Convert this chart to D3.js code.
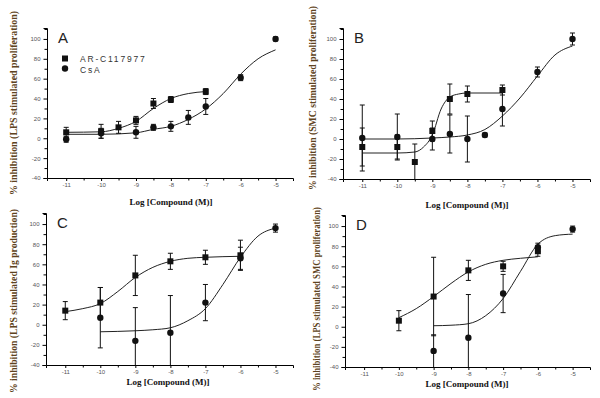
<!DOCTYPE html>
<html><head><meta charset="utf-8">
<script src="https://cdn.jsdelivr.net/npm/d3@7"></script>
<style>body{margin:0;background:#fff}svg{display:block}</style>
</head><body><svg id="c" width="600" height="398"></svg>
<script>
// ---- data ----
const xTicks = [-11, -10, -9, -8, -7, -6, -5];
const yTicks = [-40, -20, 0, 20, 40, 60, 80, 100];
const seriesNames = ["AR-C117977", "CsA"];
const xLabel = "Log [Compound (M)]";
const panelLetters = ["A", "B", "C", "D"];
const yLabels = [
  "% inhibition (LPS stimulated proliferation)",
  "% inhibition (SMC stimulated proliferation)",
  "% inhibition (LPS stimulated Ig production)",
  "% inhibition (LPS stimulated SMC proliferation)"
];
// [log conc, mean, error]
const aSquares = [[-11,6,5],[-10,7,7],[-9.5,11,6],[-9,18,4],[-8.5,35,5],[-8,39,3],[-7,47,3]];
const aCircles = [[-11,-1,3],[-10,5,5],[-9,6,6],[-8.5,11,3],[-8,12,5],[-7.5,21,7],[-7,32,8],[-6,61,3],[-5,100,2]];
const bSquares = [[-11,-8,19],[-10,-8,12],[-9.5,-23,18],[-9,8,10],[-8.5,40,15],[-8,45,8],[-7,49,5]];
const bCircles = [[-11,1,33],[-10,2,23],[-9,0,11],[-8.5,5,19],[-8,0,23],[-7.5,4,2],[-7,30,17],[-6,67,5],[-5,100,6]];
const cSquares = [[-11,14,9],[-10,22,15],[-9,49,20],[-8,63,8],[-7,67,7],[-6,69,15]];
const cCircles = [[-10,7,30],[-9,-16,33],[-8,-8,37],[-7,22,18],[-6,66,11],[-5,96,4]];
const dSquares = [[-10,6,10],[-9,30,39],[-8,56,10],[-7,60,5],[-6,75,5]];
const dCircles = [[-9,-24,16],[-8,-11,43],[-7,33,19],[-6,79,4],[-5,97,3]];
// fitted curves: [log conc, value]
const aSquareFit = [[-11,6],[-10,6.5],[-9.5,10],[-9,17],[-8.5,30],[-8,40],[-7.5,45],[-7,47]];
const aCircleFit = [[-11,4],[-10,4],[-9,5.5],[-8.5,9],[-8,12],[-7.5,19],[-7,29.5],[-6.5,45],[-6,64.5],[-5.5,80],[-5,89]];
const bSquareFit = [[-11,-14],[-10,-14],[-9.5,-13],[-9.25,-8],[-9,4],[-8.75,30],[-8.5,42],[-8.25,45],[-8,46],[-7,46]];
const bCircleFit = [[-11,0],[-10,0],[-9,1],[-8.5,2],[-8,4],[-7.5,9.5],[-7,23],[-6.5,41],[-6,63],[-5.5,84],[-5,93]];
const cSquareFit = [[-11,13],[-10.5,16],[-10,21],[-9.5,33],[-9,47],[-8.5,57],[-8,63],[-7.5,66],[-7,67],[-6,68]];
const cCircleFit = [[-10,-7],[-9,-6],[-8.5,-5],[-8,-3],[-7.5,4],[-7,16],[-6.5,40],[-6,67],[-5.5,88],[-5,96]];
const dSquareFit = [[-10,9],[-9.5,18],[-9,30],[-8.5,43],[-8,54.5],[-7.5,62],[-7,66],[-6.5,68],[-6,69.5]];
const dCircleFit = [[-9,1],[-8.5,1.5],[-8,3],[-7.5,11],[-7,28],[-6.5,55],[-6,82],[-5.5,90.5],[-5,92]];

const panelData = [
  {sq: aSquares, ci: aCircles, sqFit: aSquareFit, ciFit: aCircleFit},
  {sq: bSquares, ci: bCircles, sqFit: bSquareFit, ciFit: bCircleFit},
  {sq: cSquares, ci: cCircles, sqFit: cSquareFit, ciFit: cCircleFit},
  {sq: dSquares, ci: dCircles, sqFit: dSquareFit, ciFit: dCircleFit}
];

// ---- layout ----
const layout = [
  {l: 47,  r: 293, t: 28,  b: 178, lx: 15,  ly: 103, xl: 171, xly: 205},
  {l: 343, r: 590, t: 28,  b: 179, lx: 314, ly: 98,  xl: 467, xly: 208},
  {l: 46,  r: 293, t: 213, b: 365, lx: 15,  ly: 301, xl: 168, xly: 385},
  {l: 345, r: 590, t: 215, b: 367, lx: 318, ly: 299, xl: 467, xly: 387}
];

const svg = d3.select("#c");
const xDomain = [-11.55, -4.5];
const yDomain = [-40, 111];

layout.forEach((L, i) => {
  const D = panelData[i];
  const x = d3.scaleLinear().domain(xDomain).range([L.l, L.r]);
  const y = d3.scaleLinear().domain(yDomain).range([L.b, L.t]);
  const g = svg.append("g");

  const cid = "clip" + i;
  svg.append("clipPath").attr("id", cid).append("rect")
    .attr("x", L.l).attr("y", L.t - 5).attr("width", L.r - L.l + 5).attr("height", L.b - L.t + 5);

  const yMinor = d3.range(-30, 111, 20);
  const xMinor = d3.range(-10.5, -5, 1);
  const yAxis = d3.axisLeft(y).tickValues(yTicks).tickSize(3.5).tickPadding(3).tickFormat(d3.format("d"));
  const xAxis = d3.axisBottom(x).tickValues(xTicks).tickSize(3).tickPadding(1.5).tickFormat(d3.format("d"));
  const ya = g.append("g").attr("transform", `translate(${L.l},0)`).call(yAxis);
  const xa = g.append("g").attr("transform", `translate(0,${L.b})`).call(xAxis);
  g.append("g").attr("transform", `translate(${L.l},0)`)
    .call(d3.axisLeft(y).tickValues(yMinor).tickSize(2.5).tickFormat(""))
    .select(".domain").remove();
  g.append("g").attr("transform", `translate(0,${L.b})`)
    .call(d3.axisBottom(x).tickValues(xMinor).tickSize(2.5).tickFormat(""))
    .select(".domain").remove();
  g.selectAll(".domain").attr("stroke", "#000").attr("stroke-width", 1);
  g.selectAll(".tick line").attr("stroke", "#000");
  [ya, xa].forEach(a => a.selectAll(".tick text")
    .attr("font-family", "Liberation Sans, Arial, sans-serif")
    .attr("font-size", 6).attr("fill", "#555")
    .text(d => d < 0 ? "-" + Math.abs(d) : d));

  // y label
  g.append("text")
    .attr("transform", `translate(${L.lx},${L.ly}) rotate(-90)`)
    .attr("text-anchor", "middle").attr("dominant-baseline", "middle")
    .attr("font-family", "Liberation Serif, Times New Roman, serif")
    .attr("font-weight", "bold").attr("font-size", 10).attr("fill", "#5e4320")
    .attr("textLength", 184).attr("lengthAdjust", "spacingAndGlyphs")
    .text(yLabels[i]);
  // x label
  g.append("text").attr("x", L.xl).attr("y", L.xly)
    .attr("text-anchor", "middle")
    .attr("font-family", "Liberation Serif, Times New Roman, serif")
    .attr("font-weight", "bold").attr("font-size", 9).attr("fill", "#111")
    .text(xLabel);
  // panel letter
  g.append("text").attr("x", L.l + 11).attr("y", L.t + 15)
    .attr("font-family", "Liberation Sans, Arial, sans-serif")
    .attr("font-size", 15).attr("fill", "#222")
    .text(panelLetters[i]);

  const pg = g.append("g").attr("clip-path", `url(#${cid})`);
  const line = d3.line().x(d => x(d[0])).y(d => y(d[1])).curve(d3.curveMonotoneX);
  [D.sqFit, D.ciFit].forEach(f => pg.append("path").attr("d", line(f))
    .attr("fill", "none").attr("stroke", "#222").attr("stroke-width", 1));

  // error bars
  const eb = [...D.sq, ...D.ci];
  eb.forEach(d => {
    const xx = x(d[0]);
    const y1 = y(d[1] + d[2]), y2 = y(Math.max(yDomain[0], d[1] - d[2]));
    pg.append("line").attr("x1", xx).attr("x2", xx).attr("y1", y1).attr("y2", y2)
      .attr("stroke", "#111").attr("stroke-width", 1);
    pg.append("line").attr("x1", xx - 2.5).attr("x2", xx + 2.5).attr("y1", y1).attr("y2", y1)
      .attr("stroke", "#111").attr("stroke-width", 1);
    if (d[1] - d[2] > yDomain[0])
      pg.append("line").attr("x1", xx - 2.5).attr("x2", xx + 2.5).attr("y1", y2).attr("y2", y2)
        .attr("stroke", "#111").attr("stroke-width", 1);
  });
  // markers
  pg.selectAll(".sq").data(D.sq).join("rect")
    .attr("x", d => x(d[0]) - 3).attr("y", d => y(d[1]) - 3)
    .attr("width", 6).attr("height", 6).attr("fill", "#111");
  pg.selectAll(".ci").data(D.ci).join("circle")
    .attr("cx", d => x(d[0])).attr("cy", d => y(d[1])).attr("r", 3.2).attr("fill", "#111");

  // legend only in panel A
  if (i === 0) {
    const lg = g.append("g");
    lg.append("rect").attr("x", 62).attr("y", 55.5).attr("width", 6).attr("height", 6).attr("fill", "#111");
    lg.append("circle").attr("cx", 65).attr("cy", 68.5).attr("r", 3.2).attr("fill", "#111");
    seriesNames.forEach((s, k) => lg.append("text").attr("x", 80).attr("y", 61.5 + k * 11)
      .attr("font-family", "Liberation Sans, Arial, sans-serif")
      .attr("font-size", 8.5).attr("letter-spacing", 1.8).attr("fill", "#333").text(s));
  }
});
</script></body></html>
